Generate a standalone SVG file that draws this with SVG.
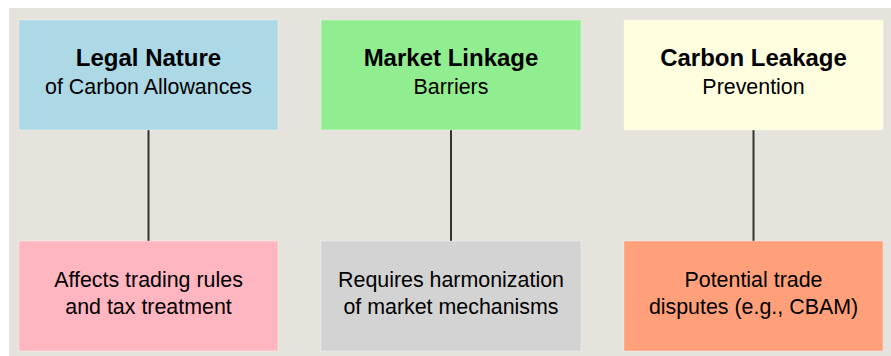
<svg xmlns="http://www.w3.org/2000/svg" width="891" height="356" viewBox="0 0 891 356">
<style>
.box{stroke:#ffffff;stroke-opacity:0.35;stroke-width:1}
.t{font-family:"Liberation Sans",Arial,sans-serif;fill:#000;text-anchor:middle}
.title{font-size:24px;font-weight:bold}
.sub{font-size:21.4px}
.conn{stroke:#333;stroke-width:2;fill:none}
</style>
<rect x="0" y="0" width="891" height="356" fill="#ffffff"/>
<rect x="9" y="8" width="882" height="348" fill="#e6e3dd"/>
<g id="connectors">
<line class="conn" x1="148.5" y1="130" x2="148.5" y2="241"/>
<line class="conn" x1="451" y1="130" x2="451" y2="241"/>
<line class="conn" x1="753.5" y1="130" x2="753.5" y2="241"/>
</g>
<g id="legal-nature">
<rect class="box" x="19" y="20" width="259" height="110" fill="#add8e6"/>
<text class="t title" x="148.5" y="66">Legal Nature</text>
<text class="t sub" x="148.5" y="93.5">of Carbon Allowances</text>
</g>
<g id="market-linkage">
<rect class="box" x="321" y="20" width="260" height="110" fill="#90ee90"/>
<text class="t title" x="451" y="66">Market Linkage</text>
<text class="t sub" x="451" y="93.5">Barriers</text>
</g>
<g id="carbon-leakage">
<rect class="box" x="624" y="20" width="259" height="110" fill="#ffffe0"/>
<text class="t title" x="753.5" y="66">Carbon Leakage</text>
<text class="t sub" x="753.5" y="93.5">Prevention</text>
</g>
<g id="trading-rules">
<rect class="box" x="19" y="241" width="259" height="110" fill="#ffb6c1"/>
<text class="t sub" x="148.5" y="287">Affects trading rules</text>
<text class="t sub" x="148.5" y="314">and tax treatment</text>
</g>
<g id="harmonization">
<rect class="box" x="321" y="241" width="260" height="110" fill="#d3d3d3"/>
<text class="t sub" x="451" y="287">Requires harmonization</text>
<text class="t sub" x="451" y="314">of market mechanisms</text>
</g>
<g id="trade-disputes">
<rect class="box" x="624" y="241" width="259" height="110" fill="#ffa07a"/>
<text class="t sub" x="753.5" y="287">Potential trade</text>
<text class="t sub" x="753.5" y="314">disputes (e.g., CBAM)</text>
</g>
</svg>
